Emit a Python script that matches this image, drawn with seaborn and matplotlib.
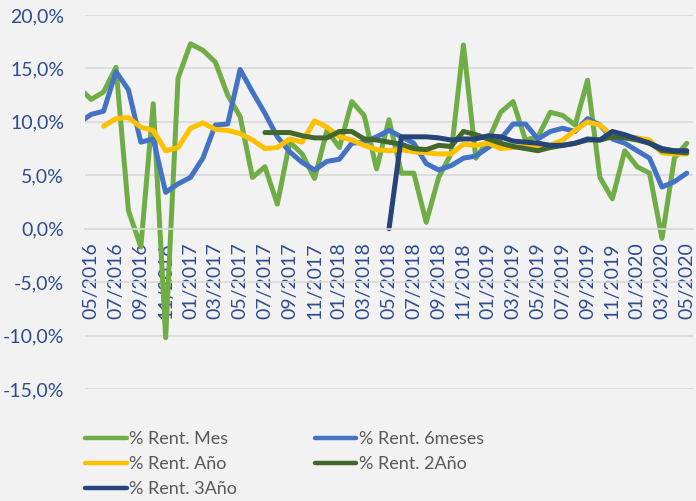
import numpy as np
import pandas as pd
import seaborn as sns
import matplotlib.pyplot as plt

# meses: 04/2016 (solo visible recortado en el borde) .. 05/2020
meses = pd.period_range('2016-04', '2020-05', freq='M').strftime('%m/%Y').tolist()

rent_mes = [13.2, 12.1, 12.8, 15.1, 1.7, -1.7, 11.7, -10.2, 14.1, 17.3, 16.7,
            15.6, 12.5, 10.5, 4.8, 5.8, 2.3, 8.1, 7.0, 4.7, 9.2, 7.6, 11.9,
            10.6, 5.6, 10.2, 5.2, 5.2, 0.6, 4.8, 7.0, 17.2, 6.6, 8.3, 10.9,
            11.9, 8.3, 8.6, 10.9, 10.6, 9.7, 13.9, 4.8, 2.8, 7.3, 5.8, 5.2,
            -0.9, 6.6, 8.0]
rent_6m = [9.9, 10.7, 11.0, 14.7, 13.0, 8.1, 8.4, 3.4, 4.2, 4.8, 6.6, 9.7,
           9.8, 14.9, 12.8, 10.8, 8.6, 7.2, 6.2, 5.5, 6.3, 6.5, 8.0, 8.1, 8.6,
           9.2, 8.6, 8.0, 6.1, 5.5, 5.9, 6.6, 6.8, 7.6, 8.4, 9.8, 9.8, 8.4,
           9.1, 9.4, 9.1, 10.3, 9.7, 8.4, 8.0, 7.3, 6.6, 3.9, 4.4, 5.2]
rent_ano = [np.nan, np.nan, 9.6, 10.3, 10.4, 9.5, 9.2, 7.3, 7.6, 9.4, 9.9,
            9.3, 9.2, 8.9, 8.3, 7.5, 7.6, 8.4, 8.1, 10.1, 9.5, 8.6, 8.3, 7.8,
            7.4, 7.3, 7.4, 7.2, 7.1, 7.0, 7.0, 7.9, 7.8, 8.0, 7.5, 7.6, 7.7,
            7.6, 7.8, 8.3, 9.2, 10.0, 9.7, 8.7, 8.6, 8.5, 8.3, 7.1, 7.0, 7.0]
rent_2ano = [np.nan] * 15 + [9.0, 9.0, 9.0, 8.7, 8.5, 8.5, 9.1, 9.1, 8.4,
                             8.3, 8.1, 7.9, 7.5, 7.4, 7.8, 7.7, 9.1, 8.8, 8.4,
                             8.0, 7.7, 7.5, 7.3, 7.6, 7.8, 8.0, 8.3, 8.3, 8.6,
                             8.5, 8.3, 8.0, 7.3, 7.2, 7.1]
rent_3ano = [np.nan] * 25 + [0.0, 8.6, 8.6, 8.6, 8.5, 8.3, 8.4, 8.4, 8.7,
                             8.6, 8.2, 8.1, 8.0, 7.8, 7.8, 8.0, 8.4, 8.3, 9.1,
                             8.8, 8.4, 8.0, 7.5, 7.3, 7.3]

series = {
    '% Rent. Mes': rent_mes,
    '% Rent. 6meses': rent_6m,
    '% Rent. Año': rent_ano,
    '% Rent. 2Año': rent_2ano,
    '% Rent. 3Año': rent_3ano,
}
colores = {
    '% Rent. Mes': '#70AD47',
    '% Rent. 6meses': '#4472C4',
    '% Rent. Año': '#FFC000',
    '% Rent. 2Año': '#43682B',
    '% Rent. 3Año': '#264478',
}

# posición: centro del mes, 05/2016 empieza en 0
pos = np.arange(len(meses)) - 1 + 0.5
df = pd.DataFrame({'pos': pos, **series}).melt(id_vars='pos', var_name='serie',
                                                value_name='valor').dropna()

yticks = [-15, -10, -5, 0, 5, 10, 15, 20]
ylabels = ['-15,0%', '-10,0%', '-5,0%', '0,0%', '5,0%', '10,0%', '15,0%', '20,0%']

sns.set_theme(style='white')
plt.rcParams['font.family'] = ['Lato', 'DejaVu Sans']
bg = '#F2F2F2'
txt = '#2F4B8F'

fig = plt.figure(figsize=(6.96, 5.01), dpi=100, facecolor=bg)
ax = fig.add_axes([85 / 696, 1 - 389 / 501, 608 / 696, 374 / 501])
ax.set_facecolor(bg)

sns.lineplot(data=df, x='pos', y='valor', hue='serie', hue_order=list(series),
             palette=colores, linewidth=3.6, ax=ax, legend=False,
             estimator=None, sort=False)

ax.set_xlim(0, 49)
ax.set_ylim(-15, 20)
ax.set_yticks(yticks, ylabels)
ax.yaxis.grid(True, color='#D9D9D9', linewidth=1.2)
ax.set_axisbelow(True)
for s in ['top', 'right', 'left']:
    ax.spines[s].set_visible(False)
ax.spines['bottom'].set_position(('data', 0))
ax.spines['bottom'].set_color('#D9D9D9')
ax.spines['bottom'].set_linewidth(1.2)
ax.tick_params(axis='y', length=0, pad=15, labelsize=14, labelcolor=txt)

# marcas cada 2 meses, etiquetas centradas en el mes
idx = list(range(1, len(meses), 2))
ax.set_xticks([pos[i] - 0.5 for i in idx], [''] * len(idx))
ax.set_xticks([pos[i] for i in idx], [meses[i] for i in idx], minor=True)
ax.tick_params(axis='x', which='major', length=4.5, width=1.2, color='#D9D9D9',
               direction='out')
ax.tick_params(axis='x', which='minor', length=0, pad=10, labelsize=14,
               labelcolor=txt, labelrotation=90)
ax.set_xlabel('')
ax.set_ylabel('')

handles = [plt.Line2D([], [], color=colores[k], linewidth=3.2) for k in series]
labels = list(series)
orden = [0, 2, 4, 1, 3]
fig.legend([handles[i] for i in orden], [labels[i] for i in orden],
           loc='upper left', bbox_to_anchor=(85 / 696, 1 - 431 / 501), ncol=2,
           frameon=False, fontsize=13, labelcolor='#595959', borderpad=0,
           borderaxespad=0, handlelength=2.3, handletextpad=0.15,
           columnspacing=4.3, labelspacing=0.5)

fig.savefig('out.png', dpi=100, facecolor=bg)
